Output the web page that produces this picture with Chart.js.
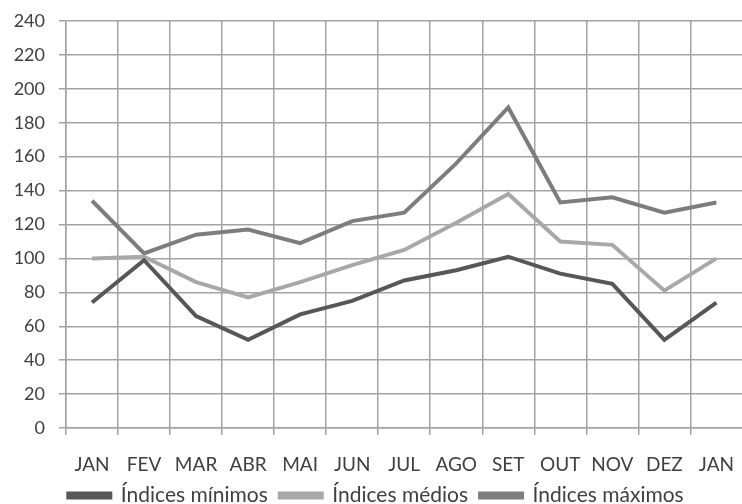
<!DOCTYPE html>
<html>
<head>
<meta charset="utf-8">
<script src="https://cdn.jsdelivr.net/npm/chart.js@4"></script>
<style>
html,body{margin:0;padding:0;background:#fff;overflow:hidden;}
#wrap{width:752px;height:504px;}
</style>
</head>
<body>
<div id="wrap"><canvas id="c" width="752" height="504"></canvas></div>
<script>
const months = ["JAN","FEV","MAR","ABR","MAI","JUN","JUL","AGO","SET","OUT","NOV","DEZ","JAN"];
const minimos = [74, 99, 66, 52, 67, 75, 87, 93, 101, 91, 85, 52, 74];
const medios  = [100, 101, 86, 77, 86, 96, 105, 121, 138, 110, 108, 81, 100];
const maximos = [134, 103, 114, 117, 109, 122, 127, 156, 189, 133, 136, 127, 133];
const yMin = 0, yMax = 240, yStep = 20;

const FONT = "Lato, 'Open Sans', sans-serif";
const TXT = "#404040";
const GRID = "#a3a3a3";

new Chart(document.getElementById('c'), {
  type: 'line',
  data: {
    labels: months,
    datasets: [
      {label: 'Índices mínimos', data: minimos, borderColor: '#575757', backgroundColor: '#575757', borderWidth: 4, pointRadius: 0, tension: 0},
      {label: 'Índices médios', data: medios, borderColor: '#a8a8a8', backgroundColor: '#a8a8a8', borderWidth: 4, pointRadius: 0, tension: 0},
      {label: 'Índices máximos', data: maximos, borderColor: '#7d7d7d', backgroundColor: '#7d7d7d', borderWidth: 4, pointRadius: 0, tension: 0}
    ]
  },
  options: {
    responsive: false,
    animation: false,
    layout: {padding: {top: 0, right: 0, left: 0, bottom: -12}},
    plugins: {
      tooltip: {enabled: false},
      legend: {
        position: 'bottom',
        labels: {
          font: {family: FONT, size: 21},
          color: TXT,
          boxWidth: 42,
          boxHeight: 4,
          padding: 12
        }
      }
    },
    scales: {
      x: {
        offset: true,
        grid: {offset: true, color: GRID, lineWidth: 1.5, tickLength: 7, drawTicks: true},
        border: {color: GRID, width: 1.5},
        ticks: {font: {family: FONT, size: 19}, color: TXT, padding: 18, maxRotation: 0, autoSkip: false},
        afterFit: function(s){ s.height = 45; }
      },
      y: {
        min: yMin, max: yMax,
        grid: {color: GRID, lineWidth: 1.5, tickLength: 7},
        border: {color: GRID, width: 1.5},
        ticks: {stepSize: yStep, font: {family: FONT, size: 18}, color: TXT, padding: 14},
        afterFit: function(s){ s.width = 66; s.paddingTop = 21; }
      }
    }
  }
});
</script>
</body>
</html>
